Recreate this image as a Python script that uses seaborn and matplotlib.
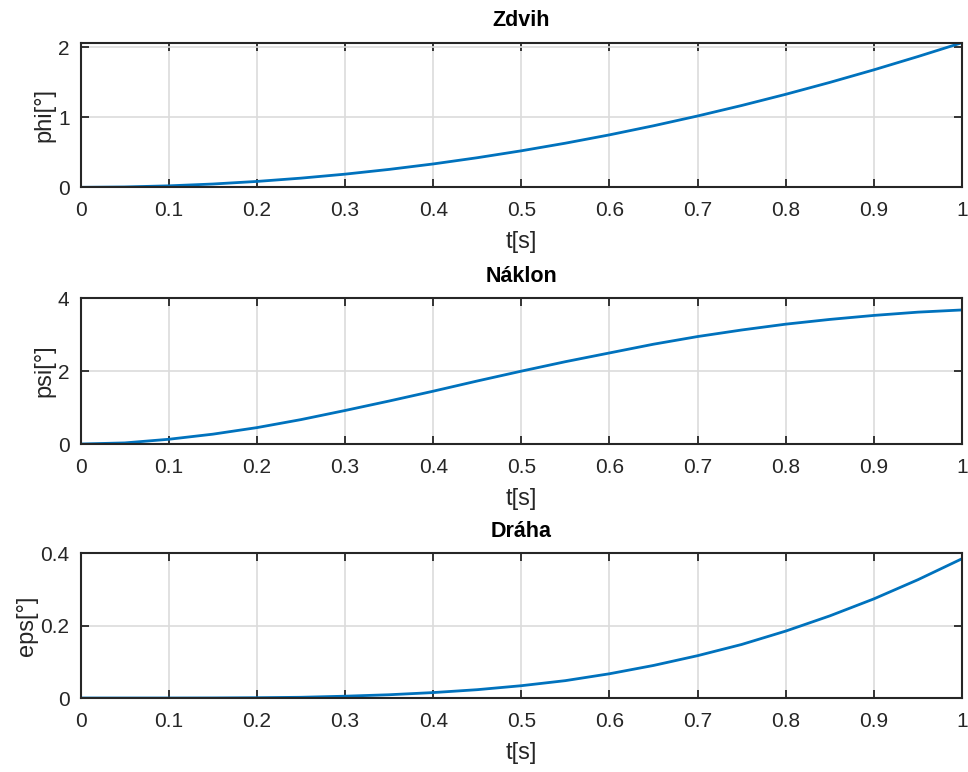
import numpy as np
import pandas as pd
import matplotlib
matplotlib.use("Agg")
import matplotlib.pyplot as plt
import seaborn as sns

t = [0.00, 0.05, 0.10, 0.15, 0.20, 0.25, 0.30, 0.35, 0.40, 0.45, 0.50,
     0.55, 0.60, 0.65, 0.70, 0.75, 0.80, 0.85, 0.90, 0.95, 1.00]
phi = [0.0, 0.005, 0.021, 0.047, 0.084, 0.131, 0.188, 0.256, 0.334, 0.423, 0.522,
       0.631, 0.750, 0.880, 1.020, 1.170, 1.330, 1.500, 1.680, 1.870, 2.068]
psi = [0.0, 0.03, 0.13, 0.27, 0.45, 0.67, 0.92, 1.18, 1.45, 1.73, 2.00,
       2.26, 2.50, 2.74, 2.95, 3.13, 3.29, 3.42, 3.53, 3.62, 3.68]
eps = [0.0, 0.0, 0.0, 0.0002, 0.0008, 0.002, 0.005, 0.009, 0.015, 0.023, 0.034,
       0.048, 0.067, 0.090, 0.117, 0.148, 0.185, 0.227, 0.274, 0.327, 0.385]

titles = ["Zdvih", "Náklon", "Dráha"]
ylabels = ["phi[°]", "psi[°]", "eps[°]"]
xlabel = "t[s]"
xticks = [0, 0.1, 0.2, 0.3, 0.4, 0.5, 0.6, 0.7, 0.8, 0.9, 1]
xticklabels = ["0", "0.1", "0.2", "0.3", "0.4", "0.5", "0.6", "0.7", "0.8", "0.9", "1"]
yticks = [[0, 1, 2], [0, 2, 4], [0, 0.2, 0.4]]
yticklabels = [["0", "1", "2"], ["0", "2", "4"], ["0", "0.2", "0.4"]]
ylims = [(0, max(phi)), (0, 4), (0, 0.4)]

sns.set_theme(style="white")
plt.rcParams['font.family'] = ['Liberation Sans', 'DejaVu Sans']

fig = plt.figure(figsize=(9.68, 7.72), dpi=100)
H = 772.0
W = 968.0
boxes = [(42.7, 187.3), (298.3, 444.0), (553.3, 698.0)]
left = 80.7 / W
right = 962.0 / W

series = [phi, psi, eps]
for i, (top, bot) in enumerate(boxes):
    ax = fig.add_axes([left, 1 - bot / H, right - left, (bot - top) / H])
    df = pd.DataFrame({"t": t, "v": series[i]})
    sns.lineplot(data=df, x="t", y="v", ax=ax, color="#0072BD", linewidth=2.0)
    ax.set_xlim(0, 1)
    ax.set_ylim(*ylims[i])
    ax.set_xticks(xticks)
    ax.set_xticklabels(xticklabels)
    ax.set_yticks(yticks[i])
    ax.set_yticklabels(yticklabels[i])
    ax.grid(True, color="#dcdcdc", linewidth=1.2)
    ax.set_axisbelow(True)
    for s in ax.spines.values():
        s.set_color("#262626")
        s.set_linewidth(1.5)
        s.set_visible(True)
    ax.tick_params(axis="both", direction="in", length=6, width=1.3, color="#262626",
                   top=True, right=True, bottom=True, left=True,
                   labelsize=15, labelcolor="#262626", pad=10)
    ax.tick_params(axis="y", pad=8)
    ax.set_title(titles[i], fontsize=15.5, fontweight="bold", color="black", pad=12)
    ax.set_xlabel(xlabel, fontsize=17, color="#262626", labelpad=8)
    ax.set_ylabel(ylabels[i], fontsize=17, color="#262626", labelpad=2)

fig.savefig("out.png", dpi=100, facecolor="white")
